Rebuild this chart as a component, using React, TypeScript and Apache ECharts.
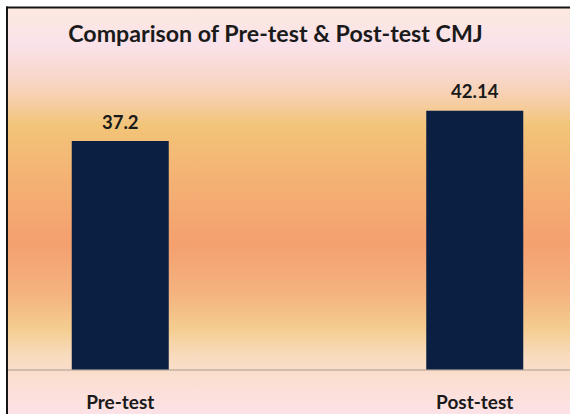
import React, { useEffect, useRef } from "react";
import * as echarts from "echarts";

const categories = ["Pre-test", "Post-test"];
const values = [37.2, 42.14];
const titleText = "Comparison of Pre-test & Post-test CMJ";

const FONT = "Lato";
// The chart area is wider than the window (cropped like the reference)
const OX = 57;
const W = 709;
const H = 414;

export default function App() {
  const ref = useRef<HTMLDivElement>(null);
  useEffect(() => {
    if (!ref.current) return;
    const chart = echarts.init(ref.current, null, { renderer: "svg" });
    const gradient = {
      type: "linear",
      x: 0,
      y: 0,
      x2: 0,
      y2: 1,
      colorStops: [
        { offset: 0, color: "#fce9df" },
        { offset: 0.09, color: "#fae2ea" },
        { offset: 0.18, color: "#f8d6c6" },
        { offset: 0.23, color: "#f6cea6" },
        { offset: 0.29, color: "#f2c478" },
        { offset: 0.42, color: "#f4b274" },
        { offset: 0.58, color: "#f4a06f" },
        { offset: 0.7, color: "#f4b27f" },
        { offset: 0.79, color: "#f4cd90" },
        { offset: 0.855, color: "#f8dbbd" },
        { offset: 0.92, color: "#fbdfd4" },
        { offset: 1, color: "#fce2e6" },
      ],
    };
    chart.setOption({
      animation: false,
      backgroundColor: "#ffffff",
      title: {
        text: titleText,
        left: OX + 270.5,
        top: 16,
        textAlign: "center",
        textStyle: {
          fontFamily: FONT,
          fontWeight: "bold",
          fontSize: 23.2,
          color: "#1a1a1a",
        },
      },
      graphic: [
        {
          type: "rect",
          z: -10,
          silent: true,
          shape: { x: OX + 7, y: 8, width: W - OX - 7, height: 406 },
          style: { fill: gradient },
        },
        {
          type: "rect",
          z: 100,
          silent: true,
          shape: { x: 0, y: 0, width: OX + 6, height: H },
          style: { fill: "#ffffff" },
        },
        {
          type: "line",
          z: 101,
          silent: true,
          shape: { x1: OX + 7, y1: 6.5, x2: OX + 7, y2: H },
          style: { stroke: "#151515", lineWidth: 2 },
        },
        {
          type: "line",
          z: 101,
          silent: true,
          shape: { x1: OX + 6, y1: 7.5, x2: W, y2: 7.5 },
          style: { stroke: "#151515", lineWidth: 2 },
        },
      ],
      grid: { left: 0, right: 0, top: 62.5, bottom: 44.5, containLabel: false },
      xAxis: {
        type: "category",
        data: categories,
        axisLine: { show: true, lineStyle: { color: "#c2b2a2", width: 1.5 } },
        axisTick: { show: false },
        axisLabel: {
          margin: 22,
          fontFamily: FONT,
          fontWeight: "bold",
          fontSize: 19,
          color: "#1a1a1a",
        },
      },
      yAxis: {
        type: "value",
        min: 0,
        max: 50,
        show: false,
        splitLine: { show: false },
      },
      series: [
        {
          type: "bar",
          data: values,
          barWidth: 97,
          itemStyle: { color: "#0b1f42" },
          label: {
            show: true,
            position: "top",
            distance: 10,
            fontFamily: FONT,
            fontWeight: "bold",
            fontSize: 18.5,
            color: "#1a1a1a",
          },
        },
      ],
    });
    return () => chart.dispose();
  }, []);
  return (
    <div
      ref={ref}
      style={{ position: "fixed", left: -OX, top: 0, width: W, height: H }}
    />
  );
}
